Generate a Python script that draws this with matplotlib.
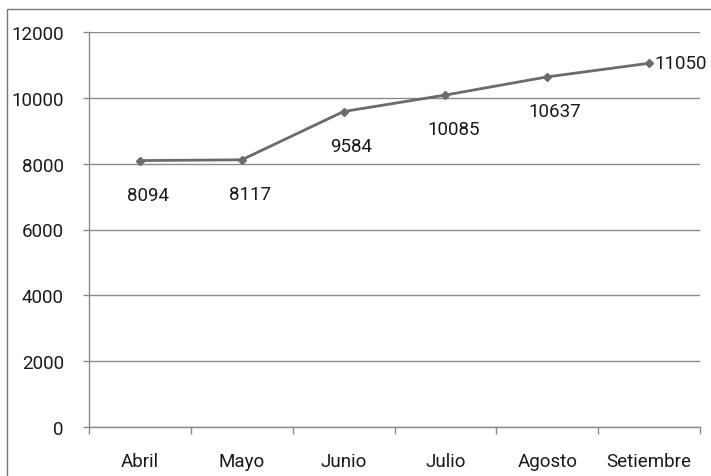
import matplotlib
matplotlib.use("Agg")
import matplotlib.pyplot as plt
from matplotlib.patches import Rectangle

# data
meses = ["Abril", "Mayo", "Junio", "Julio", "Agosto", "Setiembre"]
valores = [8094, 8117, 9584, 10085, 10637, 11050]
yticks = [0, 2000, 4000, 6000, 8000, 10000, 12000]

plt.rcParams['font.family'] = ['Roboto', 'DejaVu Sans']
FS = 13.5

fig = plt.figure(figsize=(7.11, 4.77), dpi=100)
ax = fig.add_axes([89/711, 1-428/477, (700-89)/711, (428-33)/477])

# outer frame of the scanned chart
fig.patches.append(Rectangle((7/711, -0.05), 1.2, 1 - 10/477 + 0.05,
                             transform=fig.transFigure, fill=False,
                             edgecolor='#777777', lw=1.0))

x = list(range(len(meses)))
ax.plot(x, valores, color='#6b6b6b', lw=2.0, marker='D', markersize=4.5,
        markerfacecolor='#6b6b6b', markeredgecolor='#6b6b6b', zorder=3)

for i, v in enumerate(valores):
    if i == len(valores) - 1:
        ax.annotate(str(v), (i, v), xytext=(5, 0), textcoords='offset pixels',
                    ha='left', va='center', fontsize=FS, color='#1a1a1a')
    else:
        ax.annotate(str(v), (i, v), xytext=(8, -34), textcoords='offset pixels',
                    ha='center', va='center', fontsize=FS, color='#1a1a1a')

ax.set_xlim(-0.5, len(meses) - 0.5)
ax.set_ylim(0, 12000)
ax.set_yticks(yticks)
ax.set_yticklabels([str(t) for t in yticks], fontsize=FS, color='#1a1a1a')
ax.set_xticks(x)
ax.set_xticklabels(meses, fontsize=FS, color='#1a1a1a')
ax.set_xticks([i - 0.5 for i in range(len(meses) + 1)], minor=True)

ax.grid(axis='y', color='#8a8a8a', lw=1.0)
ax.set_axisbelow(True)
ax.tick_params(axis='y', length=4, width=1, color='#8a8a8a', pad=14)
ax.tick_params(axis='x', which='major', length=0, pad=18)
ax.tick_params(axis='x', which='minor', length=5, width=1, color='#8a8a8a')

for s in ['top', 'right']:
    ax.spines[s].set_visible(False)
for s in ['left', 'bottom']:
    ax.spines[s].set_color('#8a8a8a')
    ax.spines[s].set_linewidth(1.0)

fig.savefig("out.png", dpi=100)
